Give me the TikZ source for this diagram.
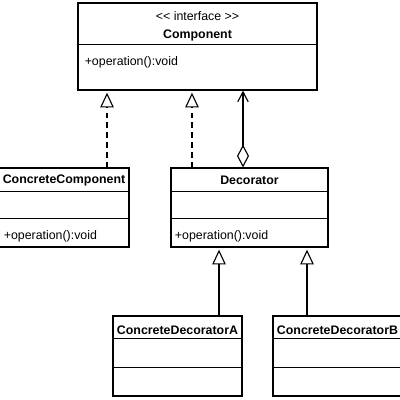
\documentclass[tikz,border=0pt]{standalone}
\usepackage{fontspec}
\setmainfont{Liberation Sans}
\usetikzlibrary{arrows.meta}

\begin{document}
\begin{tikzpicture}[x=0.025cm, y=-0.025cm, line width=0.8pt,
    every node/.style={font=\fontsize{8.8}{10.5}\selectfont, inner sep=0pt},
    classbox/.style={draw, line width=0.8pt},
    classname/.style={font=\fontsize{8.8}{10.5}\selectfont\bfseries},
    realize/.style={dash pattern=on 4pt off 3pt, shorten >=1.5pt,
      -{Triangle[open, length=3.7mm, width=3.4mm]}},
    inherit/.style={shorten >=1.5pt, -{Triangle[open, length=3.7mm, width=3.4mm]}},
    aggregate/.style={{Diamond[open, length=5.7mm, width=3mm]}-{Straight Barb[length=2.5mm, width=2.6mm]}}]
    \useasboundingbox (0,0) rectangle (400,400);

    % class boxes
    \node[classbox, minimum width=5.975cm, minimum height=2.175cm] (comp) at (197.5,46.5) {};
    \node[classbox, minimum width=3.25cm, minimum height=1.975cm] (cc) at (64,207.5) {};
    \node[classbox, minimum width=3.925cm, minimum height=1.975cm] (dec) at (249.5,207.5) {};
    \node[classbox, minimum width=3.225cm, minimum height=2cm] (cda) at (177.5,356) {};
    \node[classbox, minimum width=3.225cm, minimum height=2cm] (cdb) at (337.5,356) {};

    % compartments
    \draw ([yshift=-1.05cm]comp.north west) -- ([yshift=-1.05cm]comp.north east);
    \foreach \c in {cc,dec} {
      \draw ([yshift=-0.6cm]\c.north west) -- ([yshift=-0.6cm]\c.north east);
      \draw ([yshift=-1.275cm]\c.north west) -- ([yshift=-1.275cm]\c.north east);
    }
    \foreach \c in {cda,cdb} {
      \draw ([yshift=-0.575cm]\c.north west) -- ([yshift=-0.575cm]\c.north east);
      \draw ([yshift=-1.3cm]\c.north west) -- ([yshift=-1.3cm]\c.north east);
    }

    % texts
    \node (comp-st) at ([yshift=-0.35cm]comp.north) {<{}< interface >{}>};
    \node[classname] (comp-name) at ([yshift=-0.83cm]comp.north) {Component};
    \node[anchor=west] (comp-op) at ([xshift=0.17cm,yshift=-1.49cm]comp.north west) {+operation():void};
    \node[classname] (cc-name) at ([yshift=-0.32cm]cc.north) {ConcreteComponent};
    \node[anchor=west] (cc-op) at ([xshift=0.12cm,yshift=-1.72cm]cc.north west) {+operation():void};
    \node[classname] (dec-name) at ([yshift=-0.32cm]dec.north) {Decorator};
    \node[anchor=west] (dec-op) at ([xshift=0.1cm,yshift=-1.72cm]dec.north west) {+operation():void};
    \node[classname] (cda-name) at ([yshift=-0.36cm]cda.north) {ConcreteDecoratorA};
    \node[classname] (cdb-name) at ([yshift=-0.36cm]cdb.north) {ConcreteDecoratorB};

    % relations
    \coordinate (cc-up) at ([xshift=1.075cm]cc.north);
    \coordinate (dec-up) at ([xshift=-1.4375cm]dec.north);
    \coordinate (dec-agg) at ([xshift=-0.1625cm]dec.north);
    \coordinate (cda-up) at ([xshift=1.0375cm]cda.north);
    \coordinate (cdb-up) at ([xshift=-0.7625cm]cdb.north);
    \draw[realize] (cc-up) -- (cc-up |- comp.south);
    \draw[realize] (dec-up) -- (dec-up |- comp.south);
    \draw[aggregate] (dec-agg) -- (dec-agg |- comp.south);
    \draw[inherit] (cda-up) -- (cda-up |- dec.south);
    \draw[inherit] (cdb-up) -- (cdb-up |- dec.south);
\end{tikzpicture}
\end{document}
